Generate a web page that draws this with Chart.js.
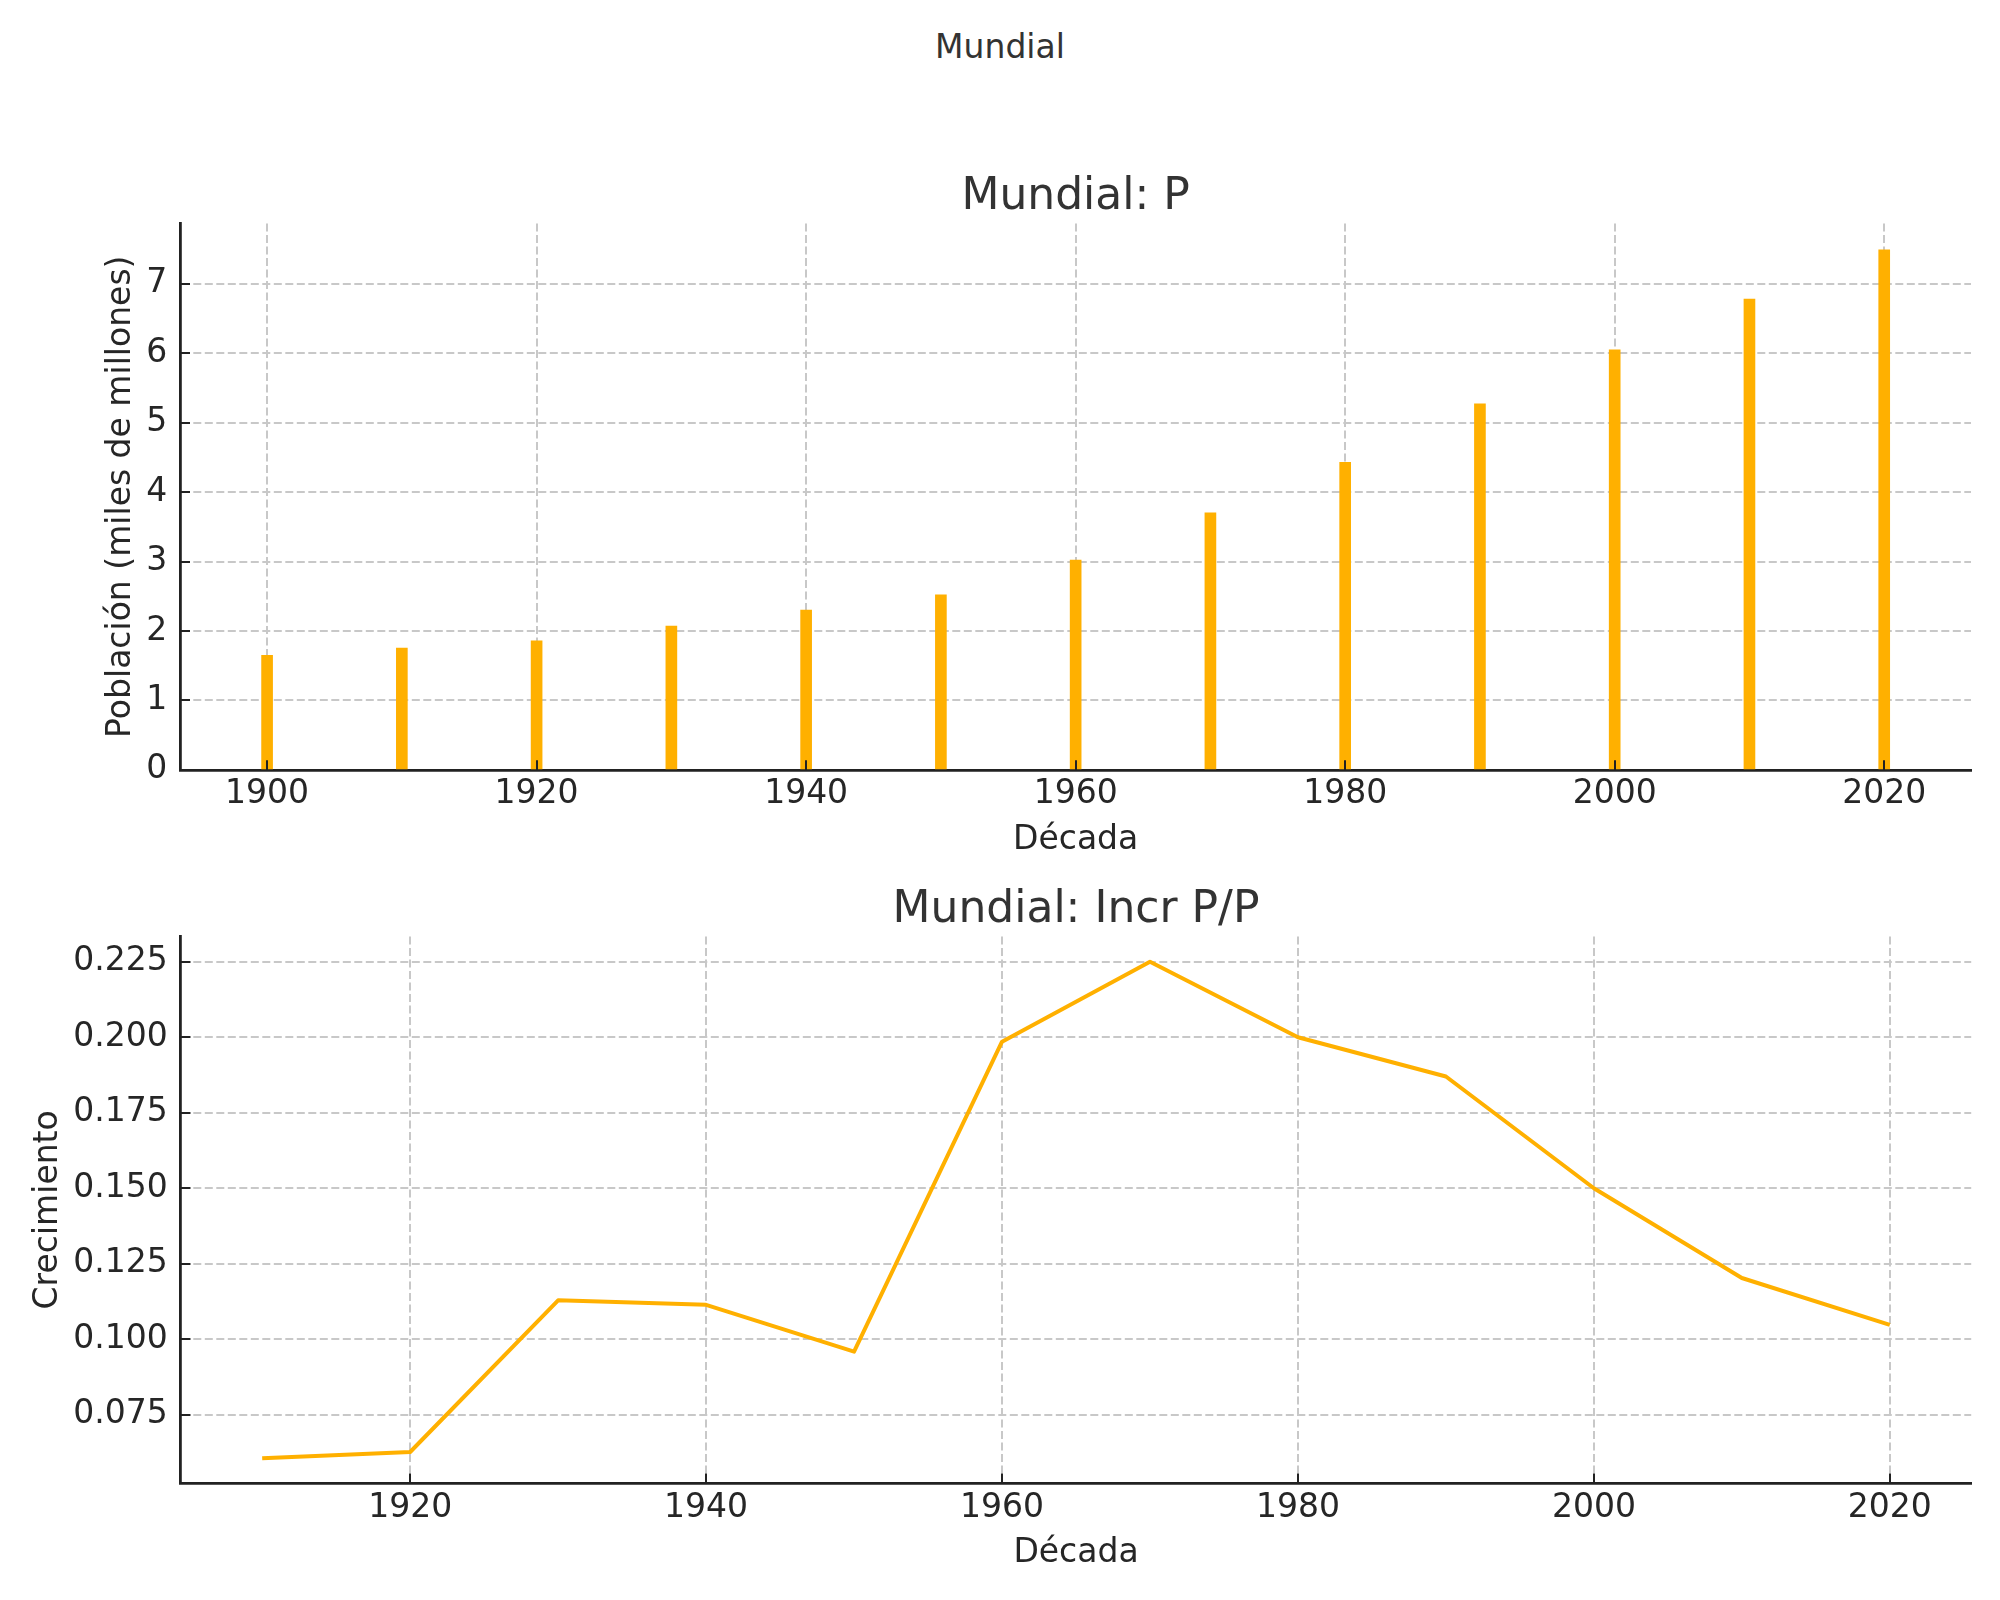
<!DOCTYPE html>
<html>
<head>
<meta charset="utf-8">
<script src="https://cdn.jsdelivr.net/npm/chart.js@4/dist/chart.umd.min.js"></script>
<style>
  html, body { margin: 0; padding: 0; background: #ffffff; }
  #wrap { position: relative; width: 2000px; height: 1600px; background: #ffffff; overflow: hidden; }
  #suptitle { position: absolute; left: 0; top: 27px; width: 2000px; height: 40px; line-height: 40px;
              text-align: center; font-family: "DejaVu Sans", sans-serif; font-size: 33px; color: #333333; }
  canvas { position: absolute; left: 0; }
  #c1 { top: 140px; }
  #c2 { top: 860px; }
</style>
</head>
<body>
<div id="wrap">
  <div id="suptitle">Mundial</div>
  <canvas id="c1" width="2000" height="730"></canvas>
  <canvas id="c2" width="2000" height="740"></canvas>
</div>
<script>
// ---- data ----
const popYears = [1900, 1910, 1920, 1930, 1940, 1950, 1960, 1970, 1980, 1990, 2000, 2010, 2020];
const population = [1.65, 1.755, 1.86, 2.07, 2.30, 2.52, 3.02, 3.70, 4.43, 5.27, 6.05, 6.78, 7.49];
const growthYears = [1910, 1920, 1930, 1940, 1950, 1960, 1970, 1980, 1990, 2000, 2010, 2020];
const growth = [0.0606, 0.0627, 0.1129, 0.1114, 0.0959, 0.1985, 0.2250, 0.2000, 0.1870, 0.1500, 0.1203, 0.1048];
const popXTicks = [1900, 1920, 1940, 1960, 1980, 2000, 2020];
const popYTicks = [0, 1, 2, 3, 4, 5, 6, 7];
const growthXTicks = [1920, 1940, 1960, 1980, 2000, 2020];
const growthYTicks = [0.075, 0.100, 0.125, 0.150, 0.175, 0.200, 0.225];
const popXRange = [1893.56, 2026.44];
const popYRange = [0, 7.868];
const growthXRange = [1904.5, 2025.5];
const growthYRange = [0.0524, 0.2333];

const FONT = '"DejaVu Sans", sans-serif';
const ORANGE = '#FFB000';
const GRID = '#c8c8c8';
const AXIS = '#222222';
const TEXT = '#262626';
const DASH = [8, 3.5];

const inwardTicks = {
  id: 'inwardTicks',
  afterDraw(chart) {
    const { ctx, chartArea } = chart;
    const xs = chart.scales.x, ys = chart.scales.y;
    ctx.save();
    ctx.strokeStyle = AXIS;
    ctx.lineWidth = 2;
    xs.ticks.forEach(t => {
      const p = Math.round(xs.getPixelForValue(t.value));
      ctx.beginPath(); ctx.moveTo(p, chartArea.bottom); ctx.lineTo(p, chartArea.bottom - 9.7); ctx.stroke();
    });
    ys.ticks.forEach(t => {
      const p = Math.round(ys.getPixelForValue(t.value));
      ctx.beginPath(); ctx.moveTo(chartArea.left, p); ctx.lineTo(chartArea.left + 9.7, p); ctx.stroke();
    });
    ctx.restore();
  }
};

function setTicks(list) {
  return function (scale) { scale.ticks = list.map(v => ({ value: v })); };
}

function makeOptions(cfg) {
  return {
    responsive: false,
    animation: false,
    devicePixelRatio: 1,
    layout: { padding: { left: 0, right: cfg.right, top: 0, bottom: 0 } },
    plugins: {
      legend: { display: false },
      tooltip: { enabled: false },
      title: {
        display: true, text: cfg.title, color: '#333333', fullSize: false,
        font: { family: FONT, size: 44, weight: 'normal', lineHeight: 1.2 },
        padding: { top: cfg.titleTop, bottom: cfg.titleBottom }
      }
    },
    scales: {
      x: {
        type: 'linear', min: cfg.xRange[0], max: cfg.xRange[1], offset: false,
        z: cfg.z,
        afterBuildTicks: setTicks(cfg.xTicks),
        afterFit: s => { s.height = cfg.xHeight; },
        grid: { display: true, offset: false, color: GRID, lineWidth: 2, drawTicks: false, tickLength: 0 },
        border: { display: true, color: AXIS, width: 2.8, dash: DASH },
        ticks: {
          color: TEXT, padding: cfg.xTickPad, maxRotation: 0, autoSkip: false,
          font: { family: FONT, size: 33, lineHeight: 1.2 },
          callback: v => String(v)
        },
        title: {
          display: true, text: 'Década', color: TEXT,
          font: { family: FONT, size: 33, lineHeight: 1.2 },
          padding: { top: 0, bottom: cfg.xTitlePad }
        }
      },
      y: {
        type: 'linear', min: cfg.yRange[0], max: cfg.yRange[1],
        z: cfg.z,
        afterBuildTicks: setTicks(cfg.yTicks),
        afterFit: s => { s.width = cfg.yWidth; },
        grid: { display: true, color: GRID, lineWidth: 2, drawTicks: false, tickLength: 0 },
        border: { display: true, color: AXIS, width: 2.8, dash: DASH },
        ticks: {
          color: TEXT, padding: 13, autoSkip: false,
          font: { family: FONT, size: 33, lineHeight: 1.2 },
          callback: cfg.yFmt
        },
        title: {
          display: true, text: cfg.yTitle, color: TEXT,
          font: { family: FONT, size: 33, lineHeight: 1.2 },
          padding: { top: cfg.yTitlePad, bottom: 0 }
        }
      }
    }
  };
}

const opts1 = makeOptions({
  title: 'Mundial: P', right: 29, titleTop: 31, titleBottom: -0.3,
  xRange: popXRange, yRange: popYRange, xTicks: popXTicks, yTicks: popYTicks,
  xHeight: 100.1, yWidth: 180.3, xTickPad: 5, xTitlePad: 9.7, yTitlePad: 101.3,
  yTitle: 'Población (miles de millones)', yFmt: v => String(v), z: 1
});
const opts2 = makeOptions({
  title: 'Mundial: Incr P/P', right: 28.8, titleTop: 24, titleBottom: -0.2,
  xRange: growthXRange, yRange: growthYRange, xTicks: growthXTicks, yTicks: growthYTicks,
  xHeight: 116.9, yWidth: 180.8, xTickPad: 6, xTitlePad: 26.7, yTitlePad: 28.7,
  yTitle: 'Crecimiento', yFmt: v => Number(v).toFixed(3), z: 0
});

new Chart(document.getElementById('c1'), {
  type: 'bar',
  data: {
    datasets: [{
      data: popYears.map((y, i) => ({ x: y, y: population[i] })),
      backgroundColor: ORANGE,
      borderWidth: 0,
      barThickness: 11
    }]
  },
  options: opts1,
  plugins: [inwardTicks]
});

new Chart(document.getElementById('c2'), {
  type: 'line',
  data: {
    datasets: [{
      data: growthYears.map((y, i) => ({ x: y, y: growth[i] })),
      borderColor: ORANGE,
      backgroundColor: ORANGE,
      borderWidth: 4,
      pointRadius: 0,
      tension: 0,
      fill: false,
      borderJoinStyle: 'round',
      borderCapStyle: 'butt'
    }]
  },
  options: opts2,
  plugins: [inwardTicks]
});
</script>
</body>
</html>
